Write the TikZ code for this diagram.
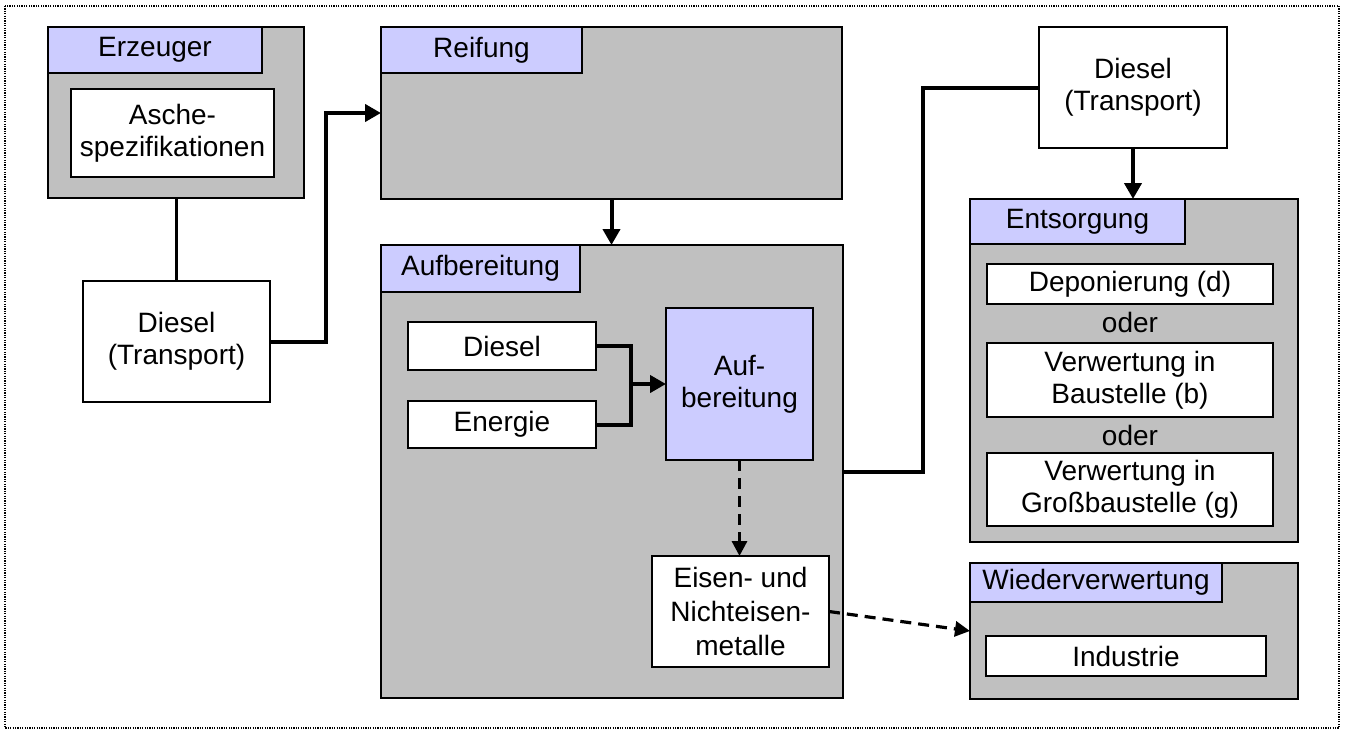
\documentclass[tikz,border=0pt]{standalone}
\usepackage{fontspec}
\setmainfont{Liberation Sans}
\usetikzlibrary{arrows.meta}
\definecolor{boxgray}{HTML}{C0C0C0}
\definecolor{tabblue}{HTML}{CCCCFF}
\begin{document}
\begin{tikzpicture}[x=1pt,y=-1pt,
  every node/.style={font=\fontsize{28}{32}\selectfont, inner sep=0pt, outer sep=0pt},
  group/.style={draw, line width=1.8pt, fill=boxgray, anchor=north west},
  tab/.style={draw, line width=1.8pt, fill=tabblue, anchor=north west},
  item/.style={draw, line width=1.8pt, fill=white, anchor=north west, align=center},
  proc/.style={draw, line width=1.8pt, fill=tabblue, anchor=north west, align=center},
  flow/.style={line width=4pt, -{Triangle[length=16pt,width=17pt]}},
  link/.style={line width=4pt},
  thinlink/.style={line width=3pt},
  dflow/.style={line width=3.2pt, dash pattern=on 11pt off 7pt, -{Triangle[length=15pt,width=15pt]}}
]
\useasboundingbox (0,0) rectangle (1345,731);
\draw[line width=1.2pt, dash pattern=on 1.2pt off 1.2pt] (5,6) rectangle (1339,728);

% Erzeuger
\node[group, minimum width=256pt, minimum height=171pt] (erz) at (48,27) {};
\node[tab, minimum width=214pt, minimum height=46pt] (erztab) at (48,27) {Erzeuger};
\node[item, minimum width=203pt, minimum height=88pt] (asche) at (71,89) {Asche-\\spezifikationen};

% Diesel left
\node[item, minimum width=187pt, minimum height=121pt] (dl) at (83,281) {Diesel\\(Transport)};

% Reifung
\node[group, minimum width=461pt, minimum height=172pt] (reif) at (381,27) {};
\node[tab, minimum width=201pt, minimum height=46pt] (reiftab) at (381,27) {Reifung};

% Aufbereitung
\node[group, minimum width=462pt, minimum height=453pt] (aufo) at (381,245) {};
\node[tab, minimum width=199pt, minimum height=47pt] (auftab) at (381,245) {Aufbereitung};
\node[item, minimum width=188pt, minimum height=48pt] (d2) at (408,322) {Diesel};
\node[item, minimum width=188pt, minimum height=47pt] (en) at (408,401) {Energie};
\node[proc, minimum width=147pt, minimum height=152pt] (aufi) at (666,308) {Auf-\\bereitung};
\node[item, minimum width=177pt, minimum height=111pt, font=\fontsize{28}{34}\selectfont] (eisen) at (652,556) {Eisen- und\\Nichteisen-\\metalle};
\coordinate (jn) at (631,384);

% Diesel right
\node[item, minimum width=188pt, minimum height=121pt] (dt) at (1039,27) {Diesel\\(Transport)};

% Entsorgung
\node[group, minimum width=328pt, minimum height=343pt] (ents) at (970,199) {};
\node[tab, minimum width=215pt, minimum height=45pt] (entstab) at (970,199) {Entsorgung};
\node[item, minimum width=286pt, minimum height=40pt] (dep) at (987,264) {Deponierung (d)};
\node (oder1) at (1130,322) {oder};
\node[item, minimum width=286pt, minimum height=74pt] (vb) at (987,343) {Verwertung in\\Baustelle (b)};
\node (oder2) at (1130,435) {oder};
\node[item, minimum width=286pt, minimum height=73pt] (vg) at (987,453) {Verwertung in\\Großbaustelle (g)};

% Wiederverwertung
\node[group, minimum width=328pt, minimum height=136pt] (wied) at (970,563) {};
\node[tab, minimum width=252pt, minimum height=39pt] (wiedtab) at (970,563) {Wiederverwertung};
\node[item, minimum width=280pt, minimum height=40pt] (ind) at (986,636) {Industrie};

% connectors
\draw[thinlink] (erz.south) -- (erz.south |- dl.north);
\draw[flow] (dl.east) -- ++(56,0) |- (reif.west);
\draw[flow] (reif.south) -- (reif.south |- aufo.north);
\draw[link] (aufo.east) -- ++(80,0) |- (dt.west);
\draw[flow] (dt.south) -- (dt.south |- ents.north);
\draw[link] (d2.east) -| (jn);
\draw[link] (en.east) -| (jn);
\draw[flow] (jn) -- (aufi.west);
\draw[dflow] (aufi.south) -- (aufi.south |- eisen.north);
\draw[dflow] (eisen.east) -- (wied.west);
\end{tikzpicture}
\end{document}
